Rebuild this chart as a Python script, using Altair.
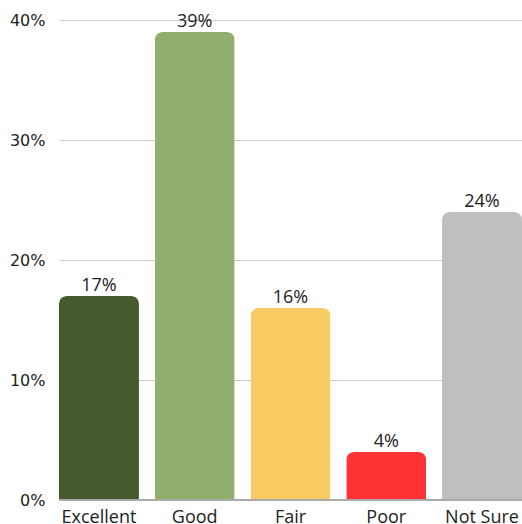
import altair as alt
import pandas as pd

categories = ["Excellent", "Good", "Fair", "Poor", "Not Sure"]
values = [17, 39, 16, 4, 24]
labels = ["17%", "39%", "16%", "4%", "24%"]
colors = ["#465a2e", "#90af6f", "#f9cb63", "#ff3333", "#bfbfbf"]

df = pd.DataFrame({"cat": categories, "val": values, "lab": labels})

x = alt.X("cat:N", sort=categories, title=None,
          scale=alt.Scale(paddingInner=0.165, paddingOuter=0),
          axis=alt.Axis(labelAngle=0, labelFont="Open Sans", labelFontSize=18,
                        labelColor="#222222", ticks=False, domain=False,
                        labelPadding=8))
y = alt.Y("val:Q", title=None,
          scale=alt.Scale(domain=[0, 40]),
          axis=alt.Axis(values=[0, 10, 20, 30, 40], labelExpr="datum.value + '%'",
                        labelFont="DejaVu Sans", labelFontSize=16, labelColor="#222222",
                        ticks=False, domain=False, labelPadding=14,
                        gridColor="#cccccc", gridWidth=1))

bars = alt.Chart(df).mark_bar(cornerRadiusTopLeft=8, cornerRadiusTopRight=8).encode(
    x=x, y=y,
    color=alt.Color("cat:N", sort=categories,
                    scale=alt.Scale(domain=categories, range=colors), legend=None),
)

text = alt.Chart(df).mark_text(font="Open Sans", fontSize=18, color="#222222",
                               baseline="alphabetic", dy=-5).encode(
    x=alt.X("cat:N", sort=categories), y=alt.Y("val:Q"), text="lab:N")

base = alt.Chart(df).mark_rule(color="#aaaaaa", strokeWidth=2).encode(
    y=alt.datum(0))

chart = alt.layer(bars, base, text).properties(
    width=463, height=480,
    autosize=alt.AutoSizeParams(type="none"),
    padding={"left": 59, "top": 20, "right": 0, "bottom": 24},
).configure_view(stroke=None)

chart.save("out.html", embed_options={"renderer": "svg", "actions": False})
